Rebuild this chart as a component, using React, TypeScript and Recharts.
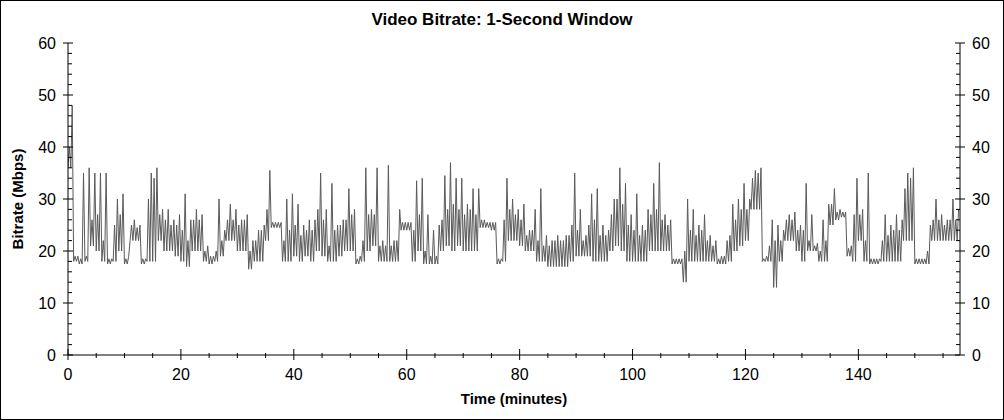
import React from "react";
import { LineChart, Line, XAxis, YAxis } from "recharts";

// per minute of running time (Mbps): lowest value, top of the dense band, highest spike
const troughs = [
  36, 18, 17.5, 18, 21, 20, 18, 17.5, 18, 20,
  17.5, 22, 22, 17.5, 18, 18, 22, 20, 20, 19,
  18, 17, 20, 20, 18, 17.5, 18, 19, 22, 22,
  20, 20, 16.5, 18, 18, 22, 24.5, 24.5, 18, 18,
  19, 18, 19, 18, 20, 19, 18, 18, 19, 20,
  20, 17.5, 18, 20, 21, 18, 18, 18, 18, 24,
  24, 18, 20, 17.5, 17.5, 17.5, 20, 21, 20, 21,
  20, 20, 20, 24.5, 24.5, 24, 17.5, 18, 22, 22,
  21, 20, 20, 18, 18, 17, 17, 17, 17, 18,
  19, 19, 19, 18, 18, 18, 20, 21, 20, 18,
  18, 18, 18, 20, 20, 20, 20, 17.5, 17.5, 14,
  18, 18, 18, 18, 18, 17.5, 17.5, 18, 20, 21,
  22, 28, 28, 18, 18, 13, 18, 22, 22, 20,
  18, 20, 20, 18, 18, 25, 26, 26.5, 19, 18,
  22, 18, 17.5, 17.5, 18, 18, 18, 18, 22, 22,
  17.5, 17.5, 17.5, 22, 22, 22, 22, 22,
];

const bandTops = [
  40, 19, 18.5, 19, 26, 27, 22, 18.5, 25, 27,
  18.5, 25, 24.5, 18.5, 30, 34, 27, 26, 25, 25,
  24, 22, 26, 26, 20, 19, 20, 22, 26, 26,
  25, 26, 20, 22, 24, 28, 25.5, 25.5, 22, 24,
  25, 23, 24, 24, 28, 26, 21, 24, 25, 26,
  27, 18.5, 22, 27, 27, 21, 21, 21, 22, 25.5,
  25.5, 24, 27, 20, 19, 19, 26, 28, 29, 28,
  27, 28, 27, 26, 25.5, 25.5, 18.5, 26, 28, 27,
  26, 23, 24, 22, 21, 21, 22, 22, 23, 25,
  24, 22, 25, 26, 23, 23, 27, 30, 29, 25,
  24, 23, 24, 27, 28, 26, 25, 18.5, 18.5, 20,
  24, 23, 24, 22, 21, 18.5, 19, 23, 26, 28,
  28, 34, 35, 18.5, 21, 22, 22, 26, 26, 24,
  24, 22, 21, 20, 22, 29, 27.5, 27.5, 20.5, 27,
  27, 22, 18.5, 18.5, 22, 23, 24, 24, 32, 34,
  18.5, 18.5, 20, 26, 26, 25, 26, 26,
];

const peaks = [
  48, 19, 35, 36, 35, 35, 35, 18.5, 30, 31,
  19, 26, 25, 18.5, 35, 36, 28, 28, 26, 27,
  31, 26, 28, 27, 21, 19, 30, 24, 29, 28,
  26, 27, 22, 24, 25, 35.5, 25.5, 25.5, 30, 31,
  29, 25, 26, 26, 35, 28, 33, 25, 26, 32,
  28, 19, 36, 28, 36, 22, 36.5, 22, 28, 25.5,
  25.5, 33.5, 34, 27, 24, 25, 34.5, 37, 34, 34,
  29, 32, 32, 26, 25.5, 25.5, 18.5, 34, 30, 28,
  29, 24, 28, 32, 23, 22, 23, 22, 23, 35,
  28, 23, 31, 32, 25, 24, 30, 36, 33, 27,
  31, 25, 28, 33, 37, 27, 26, 18.5, 18.5, 30,
  28, 25, 27, 23, 22, 19, 22, 29, 30, 33,
  30, 35.5, 36, 19, 26, 25, 24, 27, 27.5, 25,
  33, 27, 21.5, 26, 29, 32, 28, 27.5, 21, 34,
  28, 35, 18.5, 18.5, 27, 25, 27, 26, 35, 36,
  18.5, 18.5, 25, 30, 27, 26, 30, 28,
];

const xTicks = [
  0, 5, 10, 15, 20, 25, 30, 35, 40, 45, 50, 55, 60, 65, 70, 75,
  80, 85, 90, 95, 100, 105, 110, 115, 120, 125, 130, 135, 140, 145, 150, 155,
];
const xLabels = [0, 20, 40, 60, 80, 100, 120, 140];
const yTicks = [
  0, 2, 4, 6, 8, 10, 12, 14, 16, 18, 20, 22, 24, 26, 28, 30,
  32, 34, 36, 38, 40, 42, 44, 46, 48, 50, 52, 54, 56, 58, 60,
];
const yLabels = [0, 10, 20, 30, 40, 50, 60];

const data = troughs.flatMap((lo, i) => [
  { t: i, v: lo },
  { t: i + 0.25, v: bandTops[i] },
  { t: i + 0.5, v: lo },
  { t: i + 0.75, v: peaks[i] },
]);

const font = '"Liberation Sans", Arial, sans-serif';

const BottomTick = ({ x, y, payload }: any) => {
  const major = xLabels.includes(payload.value);
  return (
    <g>
      <line x1={x} x2={x} y1={major ? y - 6 : y - 2} y2={major ? y + 5 : y + 3} stroke="#000" />
      {major && (
        <text x={x} y={y + 25} textAnchor="middle" fontSize={16} fill="#000" style={{ fontFamily: font }}>
          {payload.value}
        </text>
      )}
    </g>
  );
};

const TopTick = ({ x, y, payload }: any) => {
  const major = xLabels.includes(payload.value);
  return <line x1={x} x2={x} y1={y} y2={major ? y + 6 : y + 3} stroke="#000" />;
};

const LeftTick = ({ x, y, payload }: any) => {
  const major = yLabels.includes(payload.value);
  return (
    <g>
      <line x1={major ? x - 5 : x} x2={major ? x + 5 : x + 4} y1={y} y2={y} stroke="#000" />
      {major && (
        <text x={x - 12} y={y + 6} textAnchor="end" fontSize={16} fill="#000" style={{ fontFamily: font }}>
          {payload.value}
        </text>
      )}
    </g>
  );
};

const RightTick = ({ x, y, payload }: any) => {
  const major = yLabels.includes(payload.value);
  return (
    <g>
      <line x1={major ? x - 5 : x - 4} x2={major ? x + 5 : x} y1={y} y2={y} stroke="#000" />
      {major && (
        <text x={x + 12} y={y + 6} textAnchor="start" fontSize={16} fill="#000" style={{ fontFamily: font }}>
          {payload.value}
        </text>
      )}
    </g>
  );
};

export default function App() {
  return (
    <div
      style={{
        position: "absolute",
        left: 0,
        top: 0,
        width: 1004,
        height: 420,
        background: "#fff",
        fontFamily: font,
      }}
    >
      <LineChart width={1004} height={420} data={data} margin={{ top: 43, right: 0, bottom: 0, left: 0 }}>
        <XAxis
          xAxisId="bottom"
          dataKey="t"
          type="number"
          domain={[0, 158]}
          ticks={xTicks}
          allowDataOverflow
          height={65}
          tickSize={0}
          tickMargin={0}
          tickLine={false}
          axisLine={{ stroke: "#000" }}
          tick={<BottomTick />}
          interval={0}
        />
        <XAxis
          xAxisId="top"
          orientation="top"
          dataKey="t"
          type="number"
          domain={[0, 158]}
          ticks={xTicks}
          allowDataOverflow
          height={0}
          tickSize={0}
          tickMargin={0}
          tickLine={false}
          axisLine={{ stroke: "#000" }}
          tick={<TopTick />}
          interval={0}
        />
        <YAxis
          yAxisId="left"
          type="number"
          domain={[0, 60]}
          ticks={yTicks}
          width={68}
          tickSize={0}
          tickMargin={0}
          tickLine={false}
          axisLine={{ stroke: "#000" }}
          tick={<LeftTick />}
          interval={0}
        />
        <YAxis
          yAxisId="right"
          orientation="right"
          type="number"
          domain={[0, 60]}
          ticks={yTicks}
          width={44}
          tickSize={0}
          tickMargin={0}
          tickLine={false}
          axisLine={{ stroke: "#000" }}
          tick={<RightTick />}
          interval={0}
        />
        <Line
          xAxisId="top"
          yAxisId="right"
          type="linear"
          dataKey="v"
          stroke="none"
          dot={false}
          isAnimationActive={false}
        />
        <Line
          xAxisId="bottom"
          yAxisId="left"
          type="linear"
          dataKey="v"
          stroke="#5a5a5a"
          strokeWidth={1}
          dot={false}
          isAnimationActive={false}
        />
      </LineChart>
      <div
        style={{
          position: "absolute",
          left: 0,
          top: 10,
          width: 1004,
          textAlign: "center",
          fontSize: 17,
          fontWeight: "bold",
        }}
      >
        Video Bitrate: 1-Second Window
      </div>
      <div
        style={{
          position: "absolute",
          left: 68,
          top: 390,
          width: 892,
          textAlign: "center",
          fontSize: 15,
          fontWeight: "bold",
        }}
      >
        Time (minutes)
      </div>
      <div
        style={{
          position: "absolute",
          left: 18 - 100,
          top: 199 - 10,
          width: 200,
          height: 20,
          lineHeight: "20px",
          textAlign: "center",
          fontSize: 15,
          fontWeight: "bold",
          transform: "rotate(-90deg)",
        }}
      >
        Bitrate (Mbps)
      </div>
      <div
        style={{
          position: "absolute",
          left: 0,
          top: 0,
          width: 1004,
          height: 420,
          boxSizing: "border-box",
          border: "1px solid #000",
          pointerEvents: "none",
        }}
      />
    </div>
  );
}
